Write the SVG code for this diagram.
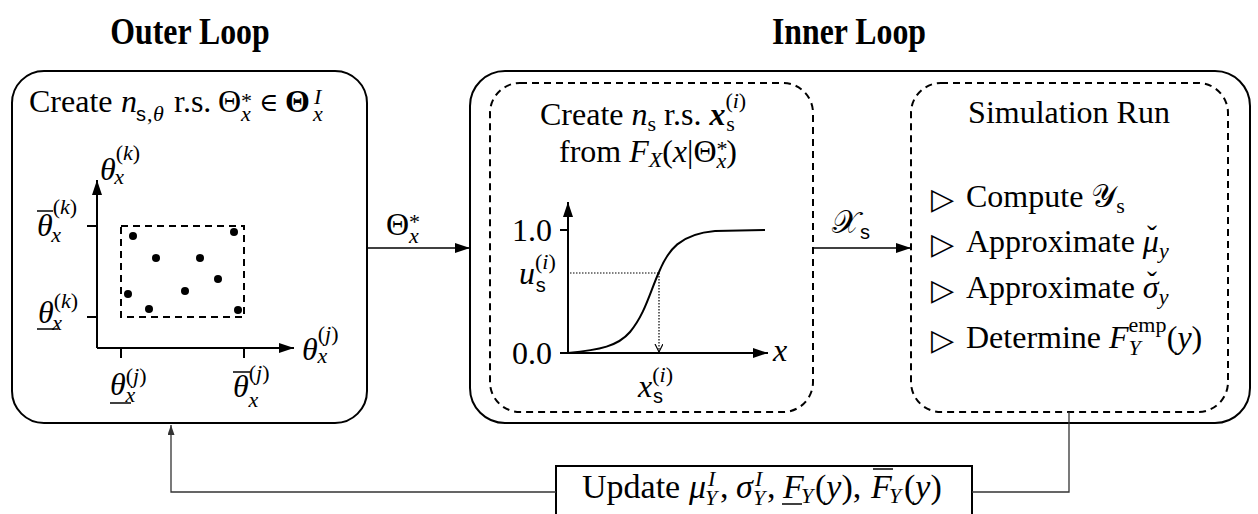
<svg xmlns="http://www.w3.org/2000/svg" width="1258" height="514" viewBox="0 0 1258 514">
<style>
text{font-family:"Liberation Serif","DejaVu Serif",serif;font-size:32px;fill:#000;white-space:pre}
.i{font-style:italic}
.b{font-weight:bold}
.s{font-size:22px}
.sf{font-family:"Liberation Sans","DejaVu Sans",sans-serif;font-size:20px}
.title{font-weight:bold;font-size:37px}
.box{fill:#fff;stroke:#000;stroke-width:2}
.dbox{fill:none;stroke:#000;stroke-width:2;stroke-dasharray:7 5}
.ax{fill:none;stroke:#000;stroke-width:2}
.bar{fill:none;stroke:#000;stroke-width:1.5}
.conn{fill:none;stroke:#000;stroke-width:1.5}
.thin{fill:none;stroke:#333;stroke-width:1.3}
.dot{fill:#000}
.tri{font-family:"DejaVu Sans",sans-serif;font-size:30px}
.acc{font-size:30px}
.u{font-size:34px}
.elem{font-family:"DejaVu Serif",serif;font-size:26px}
</style>
<defs>
<marker id="ah" markerUnits="userSpaceOnUse" markerWidth="16" markerHeight="12" refX="15" refY="5" orient="auto">
<path d="M0,0 L15,5 L0,10 Z" fill="#000"/>
</marker>
<marker id="ahs" markerUnits="userSpaceOnUse" markerWidth="12" markerHeight="10" refX="10" refY="3.5" orient="auto">
<path d="M0,0 L10,3.5 L0,7 Z" fill="#333"/>
</marker>
<marker id="ahd" markerUnits="userSpaceOnUse" markerWidth="10" markerHeight="10" refX="8" refY="4" orient="auto">
<path d="M0,0 L8,4 L0,8" fill="none" stroke="#000" stroke-width="1.2"/>
</marker>
</defs>
<rect width="1258" height="514" fill="#fff"/>

<g id="titles">
<text class="title" transform="translate(190,44) scale(0.86,1)" text-anchor="middle">Outer Loop</text>
<text class="title" transform="translate(849,44) scale(0.86,1)" text-anchor="middle">Inner Loop</text>
</g>

<g id="outer-loop">
<rect class="box" x="12" y="71" width="355" height="352" rx="32"/>
<text x="29" y="112">Create</text>
<text class="i" x="121" y="112">n</text>
<text class="sf" x="136" y="121">s</text>
<text class="s" x="147" y="121">,</text>
<text class="s i" x="153" y="121">θ</text>
<text x="174" y="112">r.s.</text>
<text x="218" y="112">Θ</text>
<text class="s" x="241" y="108">*</text>
<text class="s i" x="241" y="121">x</text>
<text class="elem" x="259" y="111">∈</text>
<text class="b" x="285" y="112">Θ</text>
<text class="s i" x="314" y="104">I</text>
<text class="s i" x="313" y="121">x</text>
<!-- axes -->
<line class="ax" x1="97" y1="348" x2="97" y2="180" marker-end="url(#ah)"/>
<line class="ax" x1="97" y1="348" x2="294" y2="348" marker-end="url(#ah)"/>
<line class="ax" x1="87" y1="226" x2="97" y2="226"/>
<line class="ax" x1="87" y1="317" x2="97" y2="317"/>
<line class="ax" x1="121" y1="348" x2="121" y2="358"/>
<line class="ax" x1="244" y1="348" x2="244" y2="358"/>
<rect class="dbox" x="121" y="226" width="123" height="91"/>
<circle class="dot" cx="133" cy="236" r="4"/>
<circle class="dot" cx="234" cy="232" r="4"/>
<circle class="dot" cx="156" cy="258" r="4"/>
<circle class="dot" cx="200" cy="258" r="4"/>
<circle class="dot" cx="218" cy="279" r="4"/>
<circle class="dot" cx="128" cy="294" r="4"/>
<circle class="dot" cx="185" cy="291" r="4"/>
<circle class="dot" cx="149" cy="309" r="4"/>
<circle class="dot" cx="238" cy="310" r="4"/>
<!-- labels -->
<text class="i" x="100" y="180">θ<tspan class="s" font-style="normal" dy="-20">(</tspan><tspan class="s">k</tspan><tspan class="s" font-style="normal">)</tspan><tspan class="s" dx="-26" dy="24">x</tspan></text>
<text class="i" x="37" y="236">θ<tspan class="s" font-style="normal" dy="-22">(</tspan><tspan class="s">k</tspan><tspan class="s" font-style="normal">)</tspan><tspan class="s" dx="-26" dy="28">x</tspan></text>
<line class="bar" x1="37" y1="211" x2="53" y2="211"/>
<text class="i" x="38" y="323">θ<tspan class="s" font-style="normal" dy="-15">(</tspan><tspan class="s">k</tspan><tspan class="s" font-style="normal">)</tspan><tspan class="s" dx="-26" dy="22">x</tspan></text>
<line class="bar" x1="37" y1="329" x2="58" y2="329"/>
<text class="i" x="302" y="360">θ<tspan class="s" font-style="normal" dy="-19">(</tspan><tspan class="s">j</tspan><tspan class="s" font-style="normal">)</tspan><tspan class="s" dx="-21" dy="22">x</tspan></text>
<text class="i" x="110" y="395">θ<tspan class="s" font-style="normal" dy="-12">(</tspan><tspan class="s">j</tspan><tspan class="s" font-style="normal">)</tspan><tspan class="s" dx="-21" dy="19">x</tspan></text>
<line class="bar" x1="110" y1="403" x2="131" y2="403"/>
<text class="i" x="233" y="397">θ<tspan class="s" font-style="normal" dy="-17">(</tspan><tspan class="s">j</tspan><tspan class="s" font-style="normal">)</tspan><tspan class="s" dx="-21" dy="27">x</tspan></text>
<line class="bar" x1="233" y1="372" x2="250" y2="372"/>
</g>

<g id="inner-loop">
<rect class="box" x="470" y="71" width="780" height="352" rx="35"/>
</g>

<g id="sampling">
<rect class="dbox" x="490" y="83" width="323" height="329" rx="30"/>
<text x="540" y="125">Create <tspan class="i">n</tspan><tspan class="s" dy="6">s</tspan><tspan dy="-6"> r.s. </tspan><tspan class="b i">x</tspan><tspan class="s" dy="-17">(</tspan><tspan class="s i">i</tspan><tspan class="s">)</tspan><tspan class="s" dx="-20" dy="23">s</tspan></text>
<text x="559" y="162">from <tspan class="i">F</tspan><tspan class="s i" dy="5">X</tspan><tspan dy="-5">(</tspan><tspan class="i">x</tspan>|Θ<tspan class="s" dy="-6">*</tspan><tspan class="s i" dx="-11" dy="12">x</tspan><tspan dy="-6">)</tspan></text>
<line class="ax" x1="568" y1="353" x2="568" y2="202" marker-end="url(#ah)"/>
<line class="ax" x1="560" y1="353" x2="768" y2="353" marker-end="url(#ah)"/>
<line class="ax" x1="560" y1="230" x2="568" y2="230"/>
<path class="ax" d="M568,353 C600,350 618,346 630,332 C645,314 650,292 659,272 C668,250 680,234 715,231 L765,230"/>
<path d="M570,273 H659" fill="none" stroke="#000" stroke-width="1.2" stroke-dasharray="1.5 1.5"/>
<path d="M659,273 V352" fill="none" stroke="#000" stroke-width="1.2" stroke-dasharray="1.5 1.5" marker-end="url(#ahd)"/>
<text x="552" y="241" text-anchor="end">1.0</text>
<text x="552" y="364" text-anchor="end">0.0</text>
<text class="i" x="773" y="361">x</text>
<text class="i" x="519" y="284">u<tspan class="s" font-style="normal" dy="-15">(</tspan><tspan class="s">i</tspan><tspan class="s" font-style="normal">)</tspan><tspan class="sf" font-style="normal" dx="-20" dy="23">s</tspan></text>
<text class="i" x="638" y="397">x<tspan class="s" font-style="normal" dy="-15">(</tspan><tspan class="s">i</tspan><tspan class="s" font-style="normal">)</tspan><tspan class="sf" font-style="normal" dx="-20" dy="21">s</tspan></text>
</g>

<g id="simulation">
<rect class="dbox" x="911" y="83" width="317" height="329" rx="30"/>
<text x="1069" y="123" text-anchor="middle">Simulation Run</text>
<text class="tri" x="931" y="209">▷</text>
<text x="966" y="207">Compute 𝒴<tspan class="s" dy="6">s</tspan></text>
<text class="tri" x="931" y="254">▷</text>
<text x="966" y="252">Approximate <tspan class="i">μ</tspan><tspan class="s i" dy="6">y</tspan></text>
<text class="acc" x="1152" y="246" text-anchor="middle">ˇ</text>
<text class="tri" x="931" y="300">▷</text>
<text x="966" y="298">Approximate <tspan class="i">σ</tspan><tspan class="s i" dy="6">y</tspan></text>
<text class="acc" x="1152" y="292" text-anchor="middle">ˇ</text>
<text class="tri" x="931" y="350">▷</text>
<text x="966" y="348">Determine <tspan class="i">F</tspan><tspan class="s" dy="-16">emp</tspan><tspan class="s i" dx="-38" dy="23">Y</tspan><tspan dx="26" dy="-7">(</tspan><tspan class="i">y</tspan>)</text>
</g>

<g id="update">
<rect class="box" x="556" y="466" width="416" height="60"/>
<text class="u" x="582" y="498">Update</text>
<text class="u i" x="689" y="498">μ</text>
<text class="s i" x="708" y="486">I</text>
<text class="s i" x="705" y="505">Y</text>
<text class="u" x="720" y="498">,</text>
<text class="u i" x="736" y="498">σ</text>
<text class="s i" x="755" y="486">I</text>
<text class="s i" x="753" y="505">Y</text>
<text class="u" x="767" y="498">,</text>
<text class="u i" x="783" y="498">F</text>
<line class="bar" x1="782" y1="504" x2="802" y2="504"/>
<text class="s i" x="801" y="503">Y</text>
<text class="u" x="815" y="498">(<tspan class="i">y</tspan>),</text>
<text class="u i" x="871" y="498">F</text>
<line class="bar" x1="873" y1="469" x2="893" y2="469"/>
<text class="s i" x="889" y="503">Y</text>
<text class="u" x="904" y="498">(<tspan class="i">y</tspan>)</text>
</g>

<g id="connectors">
<line class="conn" x1="367" y1="248" x2="470" y2="248" marker-end="url(#ah)"/>
<text x="386" y="235">Θ<tspan class="s" dy="-6">*</tspan><tspan class="s i" dx="-11" dy="14">x</tspan></text>
<line class="conn" x1="813" y1="248" x2="911" y2="248" marker-end="url(#ah)"/>
<text x="832" y="233">𝒳<tspan class="sf" dy="6">s</tspan></text>
<polyline class="thin" points="1069,412 1069,492 972,492"/>
<polyline class="thin" points="556,492 171,492 171,425" marker-end="url(#ahs)"/>
</g>
</svg>
